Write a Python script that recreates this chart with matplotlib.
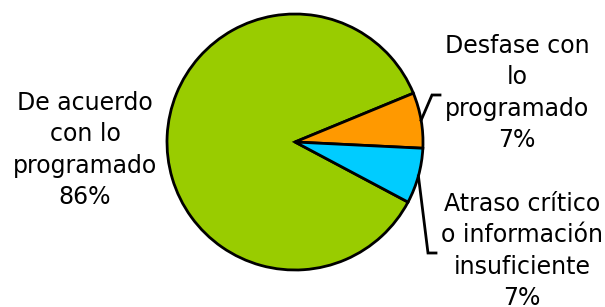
import numpy as np
import matplotlib
matplotlib.use('Agg')
import matplotlib.pyplot as plt

# datos
etiquetas = ['De acuerdo\ncon lo\nprogramado', 'Desfase con\nlo\nprogramado',
             'Atraso crítico\no información\ninsuficiente']
porcentajes = [86, 7, 7]
colores = ['#99CC00', '#FF9900', '#00CCFF']

plt.rcParams['font.family'] = ['DejaVu Sans']

fig = plt.figure(figsize=(6.05, 3.07), dpi=100)
ax = fig.add_axes([0, 0, 1, 1])

centro = (295, 165)
radio = 128
wedges, _ = ax.pie(porcentajes, colors=colores, startangle=-28, counterclock=False,
                   center=centro, radius=radio, frame=True,
                   wedgeprops=dict(edgecolor='black', linewidth=2))

ax.set_xlim(0, 605)
ax.set_ylim(0, 307)
ax.set_aspect('equal')
ax.axis('off')

# posiciones de los textos (coordenadas de píxel)
pos_texto = [(85, 157), (517, 214), (522, 56)]
# codo de las líneas guía (None = sin línea)
codos = [None, (432, 212), (428, 54)]

for w, lab, pct, (tx, ty), codo in zip(wedges, etiquetas, porcentajes, pos_texto, codos):
    ax.text(tx, ty, f'{lab}\n{pct}%', ha='center', va='center',
            fontsize=17, linespacing=1.4, color='black')
    if codo is not None:
        ang = np.deg2rad((w.theta1 + w.theta2) / 2)
        x0 = centro[0] + radio * np.cos(ang)
        y0 = centro[1] + radio * np.sin(ang)
        ax.plot([x0, codo[0], codo[0] + 8], [y0, codo[1], codo[1]],
                color='black', linewidth=2, solid_joinstyle='miter')

fig.savefig('out.png', dpi=100)
plt.close()
